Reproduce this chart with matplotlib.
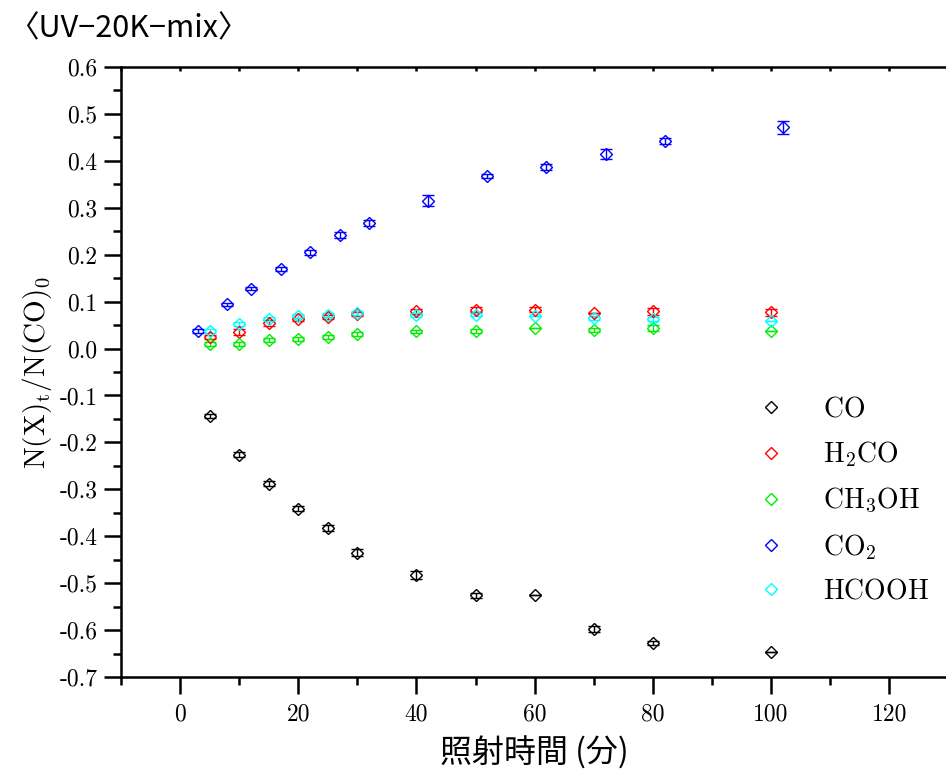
import numpy as np
import matplotlib
matplotlib.use("Agg")
import matplotlib.pyplot as plt
from matplotlib.ticker import MultipleLocator, FuncFormatter
from matplotlib.lines import Line2D

plt.rcParams["font.family"] = ["cmr10", "DejaVu Serif"]
plt.rcParams["mathtext.fontset"] = "cm"
plt.rcParams["axes.unicode_minus"] = False

# irradiation time (min)
t_main = [5, 10, 15, 20, 25, 30, 40, 50, 60, 70, 80, 100]
t_co2 = [3, 8, 12, 17, 22, 27, 32, 42, 52, 62, 72, 82, 102]

co = [-0.143, -0.226, -0.288, -0.341, -0.383, -0.435, -0.483, -0.526, -0.526, -0.597, -0.628, -0.647]
co_err = [0.004, 0.005, 0.005, 0.005, 0.006, 0.007, 0.008, 0.006, 0.0, 0.006, 0.004, 0.0]

h2co = [0.024, 0.035, 0.055, 0.062, 0.068, 0.073, 0.079, 0.083, 0.083, 0.075, 0.079, 0.077]
h2co_err = [0.004, 0.006, 0.006, 0.004, 0.004, 0.004, 0.005, 0.005, 0.006, 0.0, 0.007, 0.007]

ch3oh = [0.009, 0.009, 0.018, 0.021, 0.025, 0.031, 0.037, 0.037, 0.044, 0.039, 0.044, 0.037]
ch3oh_err = [0.004, 0.004, 0.004, 0.004, 0.004, 0.004, 0.003, 0.004, 0.0, 0.004, 0.006, 0.0]

co2 = [0.037, 0.094, 0.128, 0.170, 0.205, 0.242, 0.268, 0.315, 0.368, 0.387, 0.415, 0.443, 0.472]
co2_err = [0.004, 0.004, 0.004, 0.004, 0.005, 0.006, 0.006, 0.012, 0.004, 0.006, 0.011, 0.006, 0.014]

hcooh = [0.037, 0.053, 0.063, 0.069, 0.072, 0.075, 0.072, 0.072, 0.069, 0.065, 0.063, 0.058]
hcooh_err = [0.004, 0.004, 0.004, 0.004, 0.004, 0.004, 0.004, 0.003, 0.0, 0.005, 0.004, 0.0]

series = [
    (r"$\mathrm{CO}$", t_main, co, co_err, "black"),
    (r"$\mathrm{H_2CO}$", t_main, h2co, h2co_err, "#ff0000"),
    (r"$\mathrm{CH_3OH}$", t_main, ch3oh, ch3oh_err, "#00ee00"),
    (r"$\mathrm{CO_2}$", t_co2, co2, co2_err, "#0000ff"),
    (r"$\mathrm{HCOOH}$", t_main, hcooh, hcooh_err, "#00ffff"),
]

fig = plt.figure(figsize=(9.46, 7.74), dpi=100)
ax = fig.add_axes([0.1279, 0.1253, 0.8745, 0.7881])

handles = []
for label, t, y, e, c in series:
    ax.errorbar(t, y, yerr=e, fmt="D", ms=6, mfc="none", mec=c, mew=1.0,
                ecolor=c, elinewidth=1.0, capsize=4.5, capthick=1.0)
    handles.append(Line2D([], [], ls="none", marker="D", ms=6, mfc="none",
                          mec=c, mew=1.0, label=label))

ax.set_xlim(-10, 130)
ax.set_ylim(-0.7, 0.6)

ax.xaxis.set_major_locator(MultipleLocator(20))
ax.xaxis.set_minor_locator(MultipleLocator(10))
ax.yaxis.set_major_locator(MultipleLocator(0.1))
ax.yaxis.set_minor_locator(MultipleLocator(0.05))
ax.yaxis.set_major_formatter(FuncFormatter(lambda v, p: f"{round(v, 1) + 0.0:.1f}"))

ax.tick_params(axis="both", which="major", direction="out", length=12, width=1.8,
               labelsize=17, pad=5)
ax.tick_params(axis="both", which="minor", direction="out", length=6, width=1.8)
ax.tick_params(axis="x", which="major", pad=7)
ax.tick_params(axis="x", which="both", top=True, labeltop=False)
# short inward ticks on the top edge
for tk in ax.xaxis.get_major_ticks() + ax.xaxis.get_minor_ticks():
    tk.tick2line.set_marker(3)
    tk.tick2line.set_markersize(3)
for sp in ["left", "bottom", "top"]:
    ax.spines[sp].set_linewidth(1.8)
ax.spines["right"].set_visible(False)

ax.set_ylabel(r"$\mathrm{N(X)_t/N(CO)_0}$", fontsize=21, labelpad=4)
ax.set_xlabel("照射時間 (分)", fontsize=23, family=["Noto Sans CJK JP"], labelpad=8)

fig.text(0.008, 0.963, "〈UV−20K−mix〉", fontsize=22, family=["Noto Sans CJK JP"],
         va="center", ha="left")

ax.legend(handles=handles, loc="upper left", bbox_to_anchor=(0.755, 0.478),
          frameon=False, fontsize=20, handlelength=1.0, handletextpad=1.4,
          labelspacing=0.6, borderaxespad=0)

fig.savefig("out.png", dpi=100)
